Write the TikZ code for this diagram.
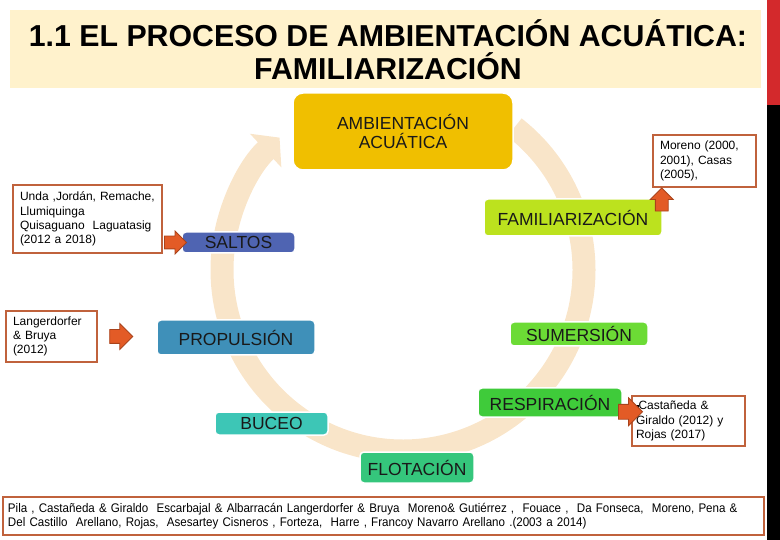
\documentclass[tikz,border=0pt]{standalone}
\usepackage{fontspec}
\setmainfont{Liberation Sans}
\newfontfamily\narrowfont[FakeStretch=0.927]{Liberation Sans}
\usetikzlibrary{positioning}
\usetikzlibrary{calc}
\usetikzlibrary{shapes.arrows}
\usetikzlibrary{arrows.meta}

\definecolor{titlebg}{HTML}{FFF2CC}
\definecolor{ringcol}{HTML}{F9E5C9}
\definecolor{ambientcol}{HTML}{F0BF00}
\definecolor{familiarcol}{HTML}{BCE21E}
\definecolor{saltoscol}{HTML}{4F64B2}
\definecolor{propulcol}{HTML}{3F90B9}
\definecolor{sumercol}{HTML}{6CDB35}
\definecolor{respcol}{HTML}{3FCB3A}
\definecolor{buceocol}{HTML}{3DC6B6}
\definecolor{flotacol}{HTML}{35C67C}
\definecolor{refbrown}{HTML}{C0623C}
\definecolor{arrowfill}{HTML}{E35B26}
\definecolor{arrowdraw}{HTML}{A9431B}
\definecolor{barred}{HTML}{D3292C}

\tikzset{
	stage/.style={rectangle, rounded corners=4pt, draw=white, line width=1.5pt, inner sep=0pt, text=black!90, font=\fontsize{17.5}{19.5}\selectfont},
	refbox/.style={rectangle, draw=refbrown, line width=2.5pt, fill=white, align=left, inner xsep=7pt, inner ysep=0pt, font=\fontsize{12}{14.2}\selectfont},
	blockarrow/.style={single arrow, fill=arrowfill, draw=arrowdraw, line width=0.8pt, inner xsep=0pt, inner ysep=6pt, single arrow head extend=5pt, minimum width=22pt, minimum height=22pt}
}

\begin{document}
\begin{tikzpicture}[x=1pt, y=-1pt]
				\useasboundingbox (0,0) rectangle (780,540);
				\fill[barred] (767,0) rectangle (780,105);
				\fill[black] (767,105) rectangle (780,540);
				\fill[titlebg] (10,10) rectangle (761,88);
				\node[align=center, font=\fontsize{30.3}{33}\selectfont\bfseries] (title) at (388,50) {1.1 EL PROCESO DE AMBIENTACIÓN ACUÁTICA:\\FAMILIARIZACIÓN};

				\draw[ringcol, line width=23pt, -{Triangle[length=19pt, width=45pt]}] (403,270) ++(-52:181) arc[start angle=-52, end angle=227, radius=181];

				\node[stage, fill=ambientcol, rounded corners=10pt, align=center, minimum width=220pt, minimum height=77pt] (ambient) at (403,131.5) {AMBIENTACIÓN\\ACUÁTICA};
				\node[stage, fill=familiarcol, minimum width=178pt, minimum height=37pt] (familiar) at (573,217.5) {FAMILIARIZACIÓN};
				\node[stage, fill=saltoscol, minimum width=113pt, minimum height=21pt] (saltos) at (238.5,242.5) {SALTOS};
				\node[stage, fill=propulcol, minimum width=158pt, minimum height=35pt] (propul) at (236,337.5) {PROPULSIÓN};
				\node[stage, fill=sumercol, minimum width=138pt, minimum height=24pt] (sumer) at (579,334) {SUMERSIÓN};
				\node[stage, fill=respcol, minimum width=144pt, minimum height=29pt] (resp) at (550,402.5) {RESPIRACIÓN};
				\node[stage, fill=buceocol, minimum width=113pt, minimum height=23pt] (buceo) at (271.5,423.5) {BUCEO};
				\node[stage, fill=flotacol, minimum width=114pt, minimum height=31pt] (flota) at (417,467.5) {FLOTACIÓN};

				\node[refbox, text width=135pt, minimum height=68pt] (unda) at (87.5,219) {Unda ,Jordán, Remache,\\Llumiquinga\\Quisaguano\ \ Laguatasig\\(2012 a 2018)};
				\node[refbox, text width=77pt, minimum height=51pt] (langer) at (51.5,336.5) {Langerdorfer\\\& Bruya\\(2012)};
				\node[refbox, text width=89pt, minimum height=52pt] (moreno) at (704.5,161) {Moreno (2000,\\2001), Casas\\(2005),};
				\node[refbox, inner xsep=4pt, text width=105pt, minimum height=50pt] (casta) at (688.5,421) {\rule[2pt]{2.5pt}{2.5pt}Castañeda \&\\Giraldo (2012) y\\Rojas (2017)};
				\node[refbox, inner xsep=5pt, text width=751pt, minimum height=38pt, font=\narrowfont\fontsize{12.5}{14}\selectfont] (biblio) at (383.5,516) {Pila , Castañeda \& Giraldo\ \ Escarbajal \& Albarracán Langerdorfer \& Bruya\ \ Moreno\& Gutiérrez ,\ \ Fouace ,\ \ Da Fonseca,\ \ Moreno, Pena \&\\Del Castillo\ \ Arellano, Rojas,\ \ Asesartey Cisneros , Forteza,\ \ Harre , Francoy Navarro Arellano .(2003 a 2014)};

				\coordinate (ltail) at ($(langer.east)+(8,0)$);
				\coordinate (lhead) at ($(langer.east)+(31,0)$);
				\node[blockarrow] (a1) at ($(unda.east |- saltos)!.5!(saltos.west)$) {};
				\node[blockarrow, inner ysep=6.5pt, single arrow head extend=6pt, minimum width=25pt, minimum height=23pt] (a2) at ($(ltail)!.5!(lhead)$) {};
				\node[blockarrow, rotate=90, minimum height=23pt] (a3) at ($(familiar.north east)+(-1,4.5)$) {};
				\node[blockarrow, inner ysep=7pt, single arrow head extend=6.5pt, minimum width=27pt, minimum height=24pt] (a4) at ($(resp.east)!.5!(casta.west)$) {};
		    \end{tikzpicture}
\end{document}
